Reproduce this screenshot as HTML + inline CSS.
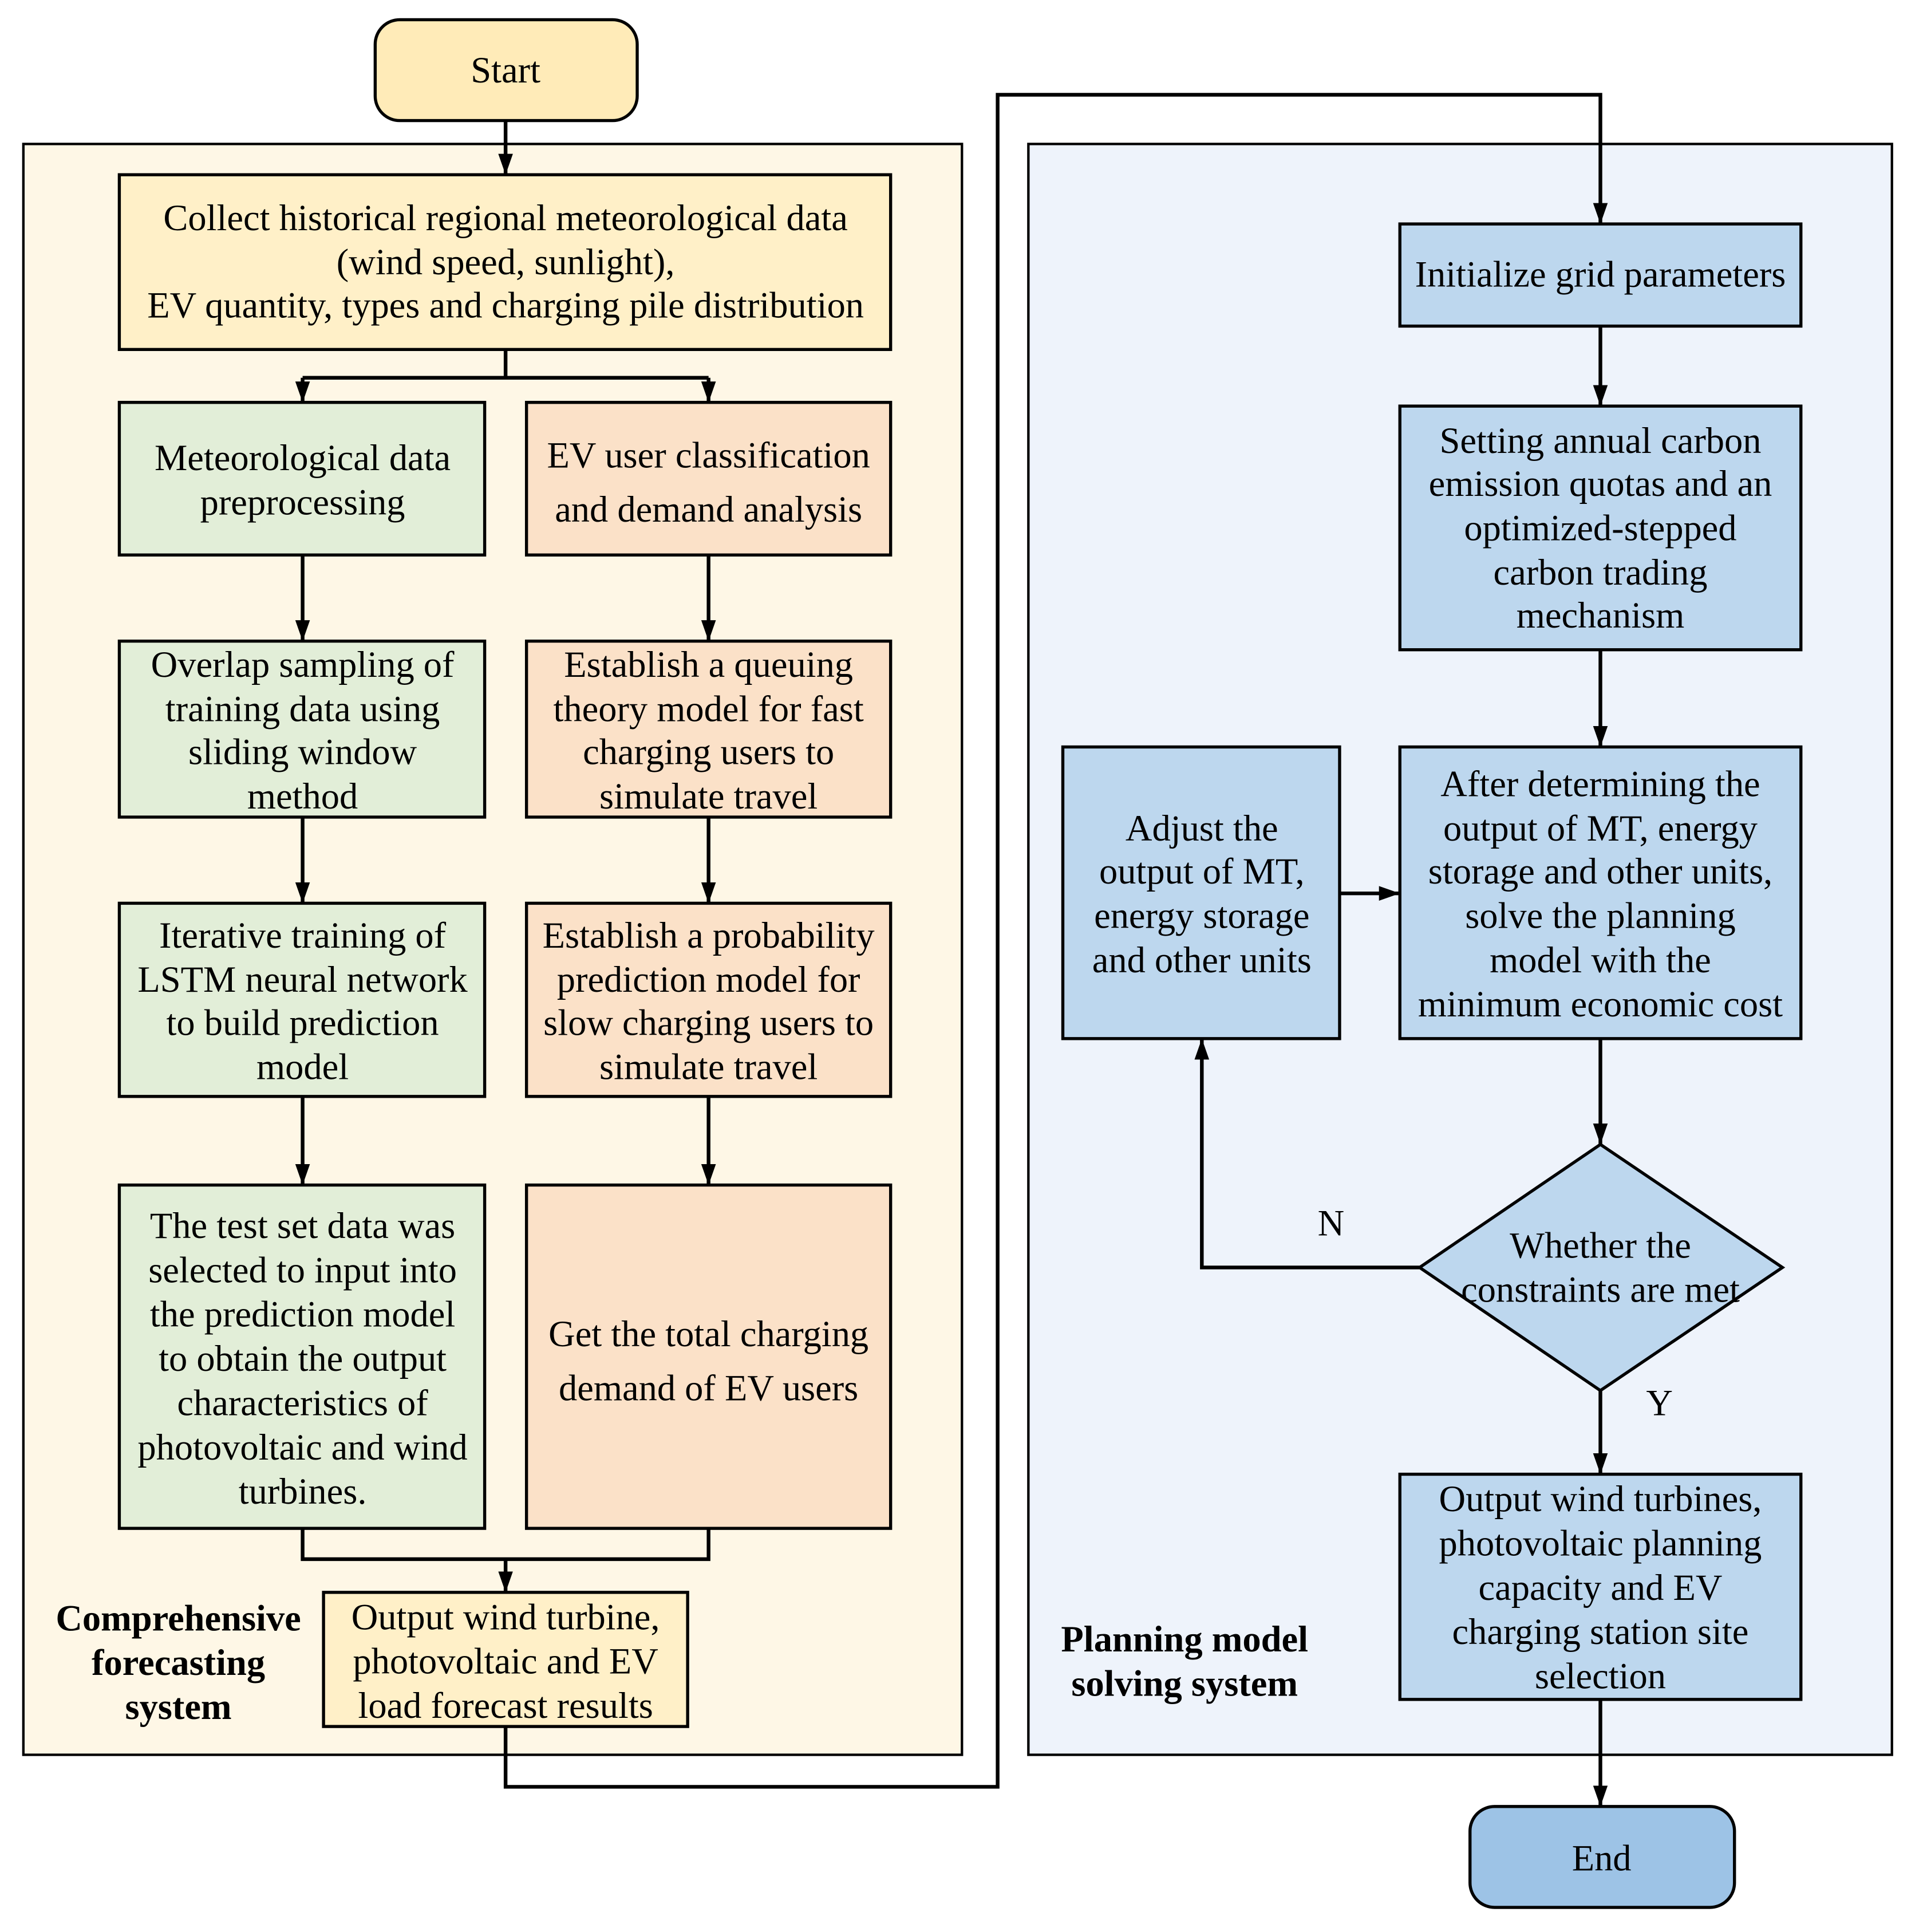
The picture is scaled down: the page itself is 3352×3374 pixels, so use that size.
<!DOCTYPE html>
<html><head><meta charset="utf-8"><style>html,body{margin:0;padding:0;background:#fff}svg{display:block}text{font-family:"Liberation Serif","Times New Roman",serif;font-size:30px}</style></head>
<body>
<svg xmlns="http://www.w3.org/2000/svg" width="3352" height="3374" viewBox="0 0 1560 1570" preserveAspectRatio="none">
<defs>
<marker id="b" viewBox="0 0 10 10" markerWidth="17" markerHeight="17" refX="10" refY="5" orient="auto" markerUnits="userSpaceOnUse"><path d="M0,1.5 L10,5 L0,8.5 Z" fill="#000"/></marker></defs>
<rect x="19" y="117" width="763" height="1309" fill="#FEF7E6" stroke="#000" stroke-width="2"/>
<rect x="836" y="117" width="702" height="1309" fill="#EEF3FB" stroke="#000" stroke-width="2"/>
<g stroke="#000" stroke-width="2.5">
<rect x="305" y="16" width="213" height="82" rx="20" fill="#FFEBB8"/>
<rect x="97" y="142" width="627" height="142" fill="#FFF0C8"/>
<rect x="97" y="327" width="297" height="124" fill="#E2EED8"/>
<rect x="428" y="327" width="296" height="124" fill="#FBE1C8"/>
<rect x="97" y="521" width="297" height="143" fill="#E2EED8"/>
<rect x="428" y="521" width="296" height="143" fill="#FBE1C8"/>
<rect x="97" y="734" width="297" height="157" fill="#E2EED8"/>
<rect x="428" y="734" width="296" height="157" fill="#FBE1C8"/>
<rect x="97" y="963" width="297" height="279" fill="#E2EED8"/>
<rect x="428" y="963" width="296" height="279" fill="#FBE1C8"/>
<rect x="263" y="1294" width="296" height="109" fill="#FFF0C8"/>
<rect x="1138" y="182" width="326" height="83" fill="#BDD7EE"/>
<rect x="1138" y="330" width="326" height="198" fill="#BDD7EE"/>
<rect x="1138" y="607" width="326" height="237" fill="#BDD7EE"/>
<rect x="864" y="607" width="225" height="237" fill="#BDD7EE"/>
<path d="M1301,930 L1449,1030 L1301,1130 L1154,1030 Z" fill="#BDD7EE"/>
<rect x="1138" y="1198" width="326" height="183" fill="#BDD7EE"/>
<rect x="1195" y="1468" width="215" height="82" rx="20" fill="#9DC3E6"/>
</g>
<g stroke="#000" stroke-width="3" fill="none">
<path d="M411,98 V142" marker-end="url(#b)"/>
<path d="M411,284 V307 M246,307 H576"/>
<path d="M246,307 V327" marker-end="url(#b)"/>
<path d="M576,307 V327" marker-end="url(#b)"/>
<path d="M246,451 V521" marker-end="url(#b)"/>
<path d="M576,451 V521" marker-end="url(#b)"/>
<path d="M246,664 V734" marker-end="url(#b)"/>
<path d="M576,664 V734" marker-end="url(#b)"/>
<path d="M246,891 V963" marker-end="url(#b)"/>
<path d="M576,891 V963" marker-end="url(#b)"/>
<path d="M246,1242 V1267 H576 V1242"/>
<path d="M411,1267 V1294" marker-end="url(#b)"/>
<path d="M411,1403 V1452 H811 V77 H1301 V182" marker-end="url(#b)"/>
<path d="M1301,265 V330" marker-end="url(#b)"/>
<path d="M1301,528 V607" marker-end="url(#b)"/>
<path d="M1089,726 H1138" marker-end="url(#b)"/>
<path d="M1301,844 V930" marker-end="url(#b)"/>
<path d="M1154,1030 H977 V844" marker-end="url(#b)"/>
<path d="M1301,1130 V1198" marker-end="url(#b)"/>
<path d="M1301,1381 V1468" marker-end="url(#b)"/>
</g>
<g text-anchor="middle" dominant-baseline="central" fill="#000">
<text x="411" y="57">Start</text>
<text x="411" y="177">Collect historical regional meteorological data</text>
<text x="411" y="213">(wind speed, sunlight),</text>
<text x="411" y="248">EV quantity, types and charging pile distribution</text>
<text x="246" y="372">Meteorological data</text>
<text x="246" y="408">preprocessing</text>
<text x="576" y="370">EV user classification</text>
<text x="576" y="414">and demand analysis</text>
<text x="246" y="540">Overlap sampling of</text>
<text x="246" y="576">training data using</text>
<text x="246" y="611">sliding window</text>
<text x="246" y="647">method</text>
<text x="576" y="540">Establish a queuing</text>
<text x="576" y="576">theory model for fast</text>
<text x="576" y="611">charging users to</text>
<text x="576" y="647">simulate travel</text>
<text x="246" y="760">Iterative training of</text>
<text x="246" y="796">LSTM neural network</text>
<text x="246" y="831">to build prediction</text>
<text x="246" y="867">model</text>
<text x="576" y="760">Establish a probability</text>
<text x="576" y="796">prediction model for</text>
<text x="576" y="831">slow charging users to</text>
<text x="576" y="867">simulate travel</text>
<text x="246" y="996">The test set data was</text>
<text x="246" y="1032">selected to input into</text>
<text x="246" y="1068">the prediction model</text>
<text x="246" y="1104">to obtain the output</text>
<text x="246" y="1140">characteristics of</text>
<text x="246" y="1176">photovoltaic and wind</text>
<text x="246" y="1212">turbines.</text>
<text x="576" y="1084">Get the total charging</text>
<text x="576" y="1128">demand of EV users</text>
<text x="411" y="1314">Output wind turbine,</text>
<text x="411" y="1350">photovoltaic and EV</text>
<text x="411" y="1386">load forecast results</text>
<g font-weight="bold"><text x="145" y="1315">Comprehensive</text><text x="145" y="1351">forecasting</text><text x="145" y="1387">system</text>
<text x="963" y="1332">Planning model</text><text x="963" y="1368">solving system</text></g>
<text x="1301" y="223">Initialize grid parameters</text>
<text x="1301" y="358">Setting annual carbon</text>
<text x="1301" y="393">emission quotas and an</text>
<text x="1301" y="429">optimized-stepped</text>
<text x="1301" y="465">carbon trading</text>
<text x="1301" y="500">mechanism</text>
<text x="1301" y="637">After determining the</text>
<text x="1301" y="673">output of MT, energy</text>
<text x="1301" y="708">storage and other units,</text>
<text x="1301" y="744">solve the planning</text>
<text x="1301" y="780">model with the</text>
<text x="1301" y="816">minimum economic cost</text>
<text x="977" y="673">Adjust the</text>
<text x="977" y="708">output of MT,</text>
<text x="977" y="744">energy storage</text>
<text x="977" y="780">and other units</text>
<text x="1301" y="1012">Whether the</text>
<text x="1301" y="1048">constraints are met</text>
<text x="1082" y="994">N</text>
<text x="1349" y="1140">Y</text>
<text x="1301" y="1218">Output wind turbines,</text>
<text x="1301" y="1254">photovoltaic planning</text>
<text x="1301" y="1290">capacity and EV</text>
<text x="1301" y="1326">charging station site</text>
<text x="1301" y="1362">selection</text>
<text x="1302" y="1510">End</text>
</g>
</svg>
</body></html>
